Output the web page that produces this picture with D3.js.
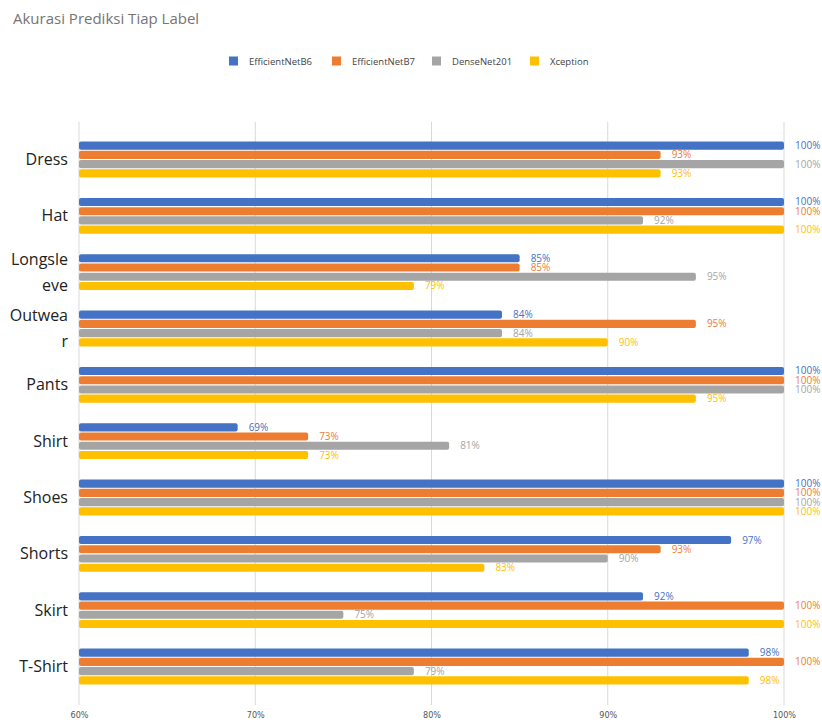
<!DOCTYPE html>
<html>
<head>
<meta charset="utf-8">
<script src="https://cdn.jsdelivr.net/npm/d3@7"></script>
<style>
  body { margin: 0; background: #fff; }
  svg { display: block; font-family: "Open Sans", sans-serif; }
</style>
</head>
<body>
<svg id="chart" width="822" height="724"></svg>
<script>
// data
const categories = ["Dress", "Hat", "Longsleeve", "Outwear", "Pants", "Shirt", "Shoes", "Shorts", "Skirt", "T-Shirt"]
const seriesNames = ["EfficientNetB6", "EfficientNetB7", "DenseNet201", "Xception"]
const effB6 = [100, 100, 85, 84, 100, 69, 100, 97, 92, 98]
const effB7 = [93, 100, 85, 95, 100, 73, 100, 93, 100, 100]
const dense201 = [100, 92, 95, 84, 100, 81, 100, 90, 75, 79]
const xception = [93, 100, 79, 90, 95, 73, 100, 83, 100, 98]
const xTicks = [60, 70, 80, 90, 100]
const colors = ["#4472c4", "#ed7d31", "#a5a5a5", "#ffc000"]

const seriesValues = [effB6, effB7, dense201, xception]
const rows = categories.map((c, i) => ({
	cat: c,
	vals: seriesNames.map((s, j) => ({ series: s, idx: j, value: seriesValues[j][i] }))
}))

const svg = d3.select("#chart")

// title
svg.append("text")
	.attr("x", 13).attr("y", 24)
	.attr("fill", "#757575")
	.style("font-size", "15px")
	.text("Akurasi Prediksi Tiap Label")

// legend
const legendX = [229, 332, 432, 530]
const legend = svg.append("g")
seriesNames.forEach((s, i) => {
	legend.append("rect")
		.attr("x", legendX[i]).attr("y", 56.5)
		.attr("width", 9).attr("height", 9)
		.attr("fill", colors[i])
	legend.append("text")
		.attr("x", legendX[i] + 20).attr("y", 64.5)
		.attr("fill", "#444")
		.style("font-size", "9.5px")
		.text(s)
})

// scales
const x = d3.scaleLinear().domain([60, 100]).range([79, 784])
const y = d3.scaleBand().domain(categories).range([131.3, 694.7]).paddingInner(0.325).paddingOuter(0.1625)
const ySub = d3.scaleBand().domain(seriesNames).range([0, y.bandwidth()]).padding(0.12)

// grid + x axis
const xAxis = d3.axisBottom(x).tickValues(xTicks).tickSize(0).tickFormat(d => d + "%")
svg.append("g")
	.selectAll("line")
	.data(xTicks)
	.enter()
	.append("line")
		.attr("x1", d => x(d)).attr("x2", d => x(d))
		.attr("y1", 122).attr("y2", 705)
		.attr("stroke", "#d9d9d9")
		.attr("stroke-width", 1)

const ax = svg.append("g")
	.attr("transform", "translate(0,706)")
	.call(xAxis)
ax.select(".domain").remove()
ax.selectAll("text")
	.attr("fill", "#555")
	.style("font-family", "'DejaVu Sans Condensed', sans-serif")
	.style("font-size", "9px")
	.attr("dy", "0.95em")

// category labels with wrapping
const yAxis = svg.append("g")
yAxis.selectAll("text")
	.data(categories)
	.enter()
	.append("text")
		.attr("x", 68)
		.attr("text-anchor", "end")
		.attr("fill", "#222")
		.style("font-size", "16px")
		.each(function(d) {
			const t = d3.select(this)
			const lines = []
			let cur = ""
			for (const ch of d) {
				t.text(cur + ch)
				if (this.getComputedTextLength() > 60 && cur.length) {
					lines.push(cur)
					cur = ch
				} else {
					cur += ch
				}
			}
			lines.push(cur)
			t.text(null)
			const cy = y(d) + y.bandwidth() / 2
			const lh = 26
			lines.forEach((ln, k) => {
				t.append("tspan")
					.attr("x", 68)
					.attr("y", cy + (k - (lines.length - 1) / 2) * lh)
					.attr("dy", "0.35em")
					.text(ln)
			})
		})

// bars
const groups = svg.selectAll(".grp")
	.data(rows)
	.enter()
	.append("g")
		.attr("class", "grp")
		.attr("transform", d => "translate(0," + y(d.cat) + ")")

groups.selectAll("rect")
	.data(d => d.vals)
	.enter()
	.append("rect")
		.attr("x", x(60))
		.attr("y", d => ySub(d.series))
		.attr("width", d => x(d.value) - x(60))
		.attr("height", ySub.bandwidth())
		.attr("rx", 2)
		.attr("fill", d => colors[d.idx])

groups.selectAll("text")
	.data(d => d.vals)
	.enter()
	.append("text")
		.attr("x", d => x(d.value) + 11)
		.attr("y", d => ySub(d.series) + ySub.bandwidth() / 2)
		.attr("dy", "0.35em")
		.attr("fill", d => colors[d.idx])
		.style("font-size", "10px")
		.text(d => d.value + "%")
</script>
</body>
</html>
